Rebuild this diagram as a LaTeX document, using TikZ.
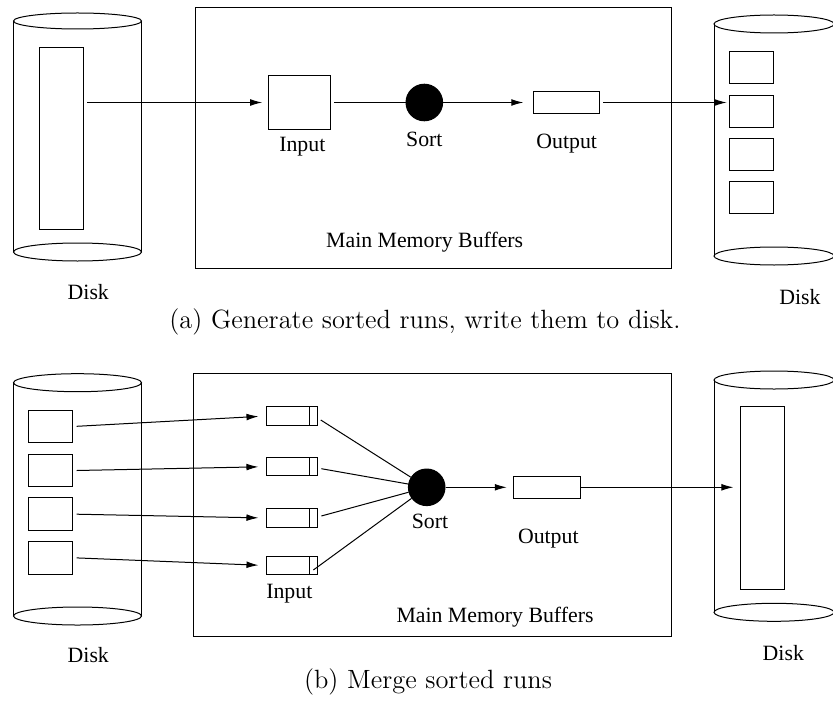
\documentclass[tikz,border=0pt]{standalone}
\usepackage{fontspec}
\newfontfamily\timesf{Liberation Serif}
\usetikzlibrary{arrows.meta,calc}
\begin{document}
\begin{tikzpicture}[x=0.5pt,y=-0.5pt,line width=0.5pt,
  box/.style={draw,inner sep=0pt,outer sep=0pt},
  lbl/.style={font=\timesf\fontsize{10.9}{13}\selectfont,inner sep=0pt},
  captext/.style={font=\fontsize{13.2}{16}\selectfont,inner sep=0pt},
  arr/.style={-{Latex[length=6pt,width=3.4pt]}},
  sortdot/.style={circle,fill=black,draw,minimum size=18.3pt,inner sep=0pt}]
\useasboundingbox (0,0) rectangle (833,700);
\clip (0,0) rectangle (833,700);
% ---------- (a) ----------
% left disk
\draw (77.5,21) ellipse [x radius=64,y radius=8];
\draw (77.5,252) ellipse [x radius=64,y radius=9];
\draw (13.5,21) -- (13.5,252);
\draw (141.5,21) -- (141.5,252);
\node[box,minimum width=22pt,minimum height=90.8pt] (l1run) at (61.3,138.5) {};
% right disk
\draw (774,24) ellipse [x radius=60,y radius=9];
\draw (774,256) ellipse [x radius=60,y radius=9];
\draw (714,24) -- (714,256);
\draw (834,24) -- (834,256);
\node[box,minimum width=22pt,minimum height=16pt] (r1b1) at (751.3,67.5) {};
\node[box,minimum width=22pt,minimum height=16pt] (r1b2) at (751.3,111.2) {};
\node[box,minimum width=22pt,minimum height=16pt] (r1b3) at (751.3,154.5) {};
\node[box,minimum width=22pt,minimum height=16pt] (r1b4) at (751.3,197.9) {};
% memory
\node[box,minimum width=238pt,minimum height=130pt] (mem1) at (433,138) {};
\node[box,minimum width=31pt,minimum height=27.15pt] (in1) at (299.2,102.5) {};
\node[sortdot] (sort1) at (424.3,102.5) {};
\node[box,minimum width=33pt,minimum height=11pt] (out1) at (566.3,102.5) {};
\coordinate (l1src) at ($(l1run.east)+(4,0)$);
\draw[arr,shorten >=3pt] (l1src |- in1.west) -- (in1.west);
\draw ([xshift=2pt]in1.east) -- (sort1);
\draw[arr,shorten >=5pt] (sort1) -- (out1.west);
\draw[arr,shorten >=1.3pt] ([xshift=2pt]out1.east) -- (out1.east -| r1b2.west);
\node[lbl] (tin1) at (302.3,146.7) {Input};
\node[lbl] (tsort1) at (424.3,139.3) {Sort};
\node[lbl] (tout1) at (566.7,143.3) {Output};
\node[lbl] (tmem1) at (424.7,242.3) {Main Memory Buffers};
\node[lbl] (tdl1) at (88.3,291.7) {Disk};
\node[lbl] (tdr1) at (800,296.7) {Disk};
\node[captext] (capa) at (425,321.7) {(a) Generate sorted runs, write them to disk.};
% ---------- (b) ----------
% left disk
\draw (77.5,382.7) ellipse [x radius=64,y radius=9];
\draw (77.5,616) ellipse [x radius=64,y radius=9];
\draw (13.5,382.7) -- (13.5,616);
\draw (141.5,382.7) -- (141.5,616);
\node[box,minimum width=22pt,minimum height=16.25pt] (l2b1) at (50.3,426.3) {};
\node[box,minimum width=22pt,minimum height=16.25pt] (l2b2) at (50.3,470.5) {};
\node[box,minimum width=22pt,minimum height=16.25pt] (l2b3) at (50.3,514.2) {};
\node[box,minimum width=22pt,minimum height=16.25pt] (l2b4) at (50.3,557.9) {};
% right disk
\draw (774,380) ellipse [x radius=60,y radius=9];
\draw (774,612.3) ellipse [x radius=60,y radius=9];
\draw (714,380) -- (714,612.3);
\draw (834,380) -- (834,612.3);
\node[box,minimum width=22pt,minimum height=91.3pt] (r2run) at (762,498) {};
% memory
\node[box,minimum width=239pt,minimum height=131.25pt] (mem2) at (432,504.8) {};
\foreach \i/\y in {1/416,2/466.7,3/518,4/565.5}{
  \node[box,minimum width=25.65pt,minimum height=9.25pt] (b\i) at (291.7,\y) {};
  \draw ($(b\i.north east)+(-8,0)$) -- ($(b\i.south east)+(-8,0)$);
}
\node[sortdot] (sort2) at (426.7,487.3) {};
\node[box,minimum width=33.35pt,minimum height=10.85pt] (out2) at (546.7,487.3) {};
\foreach \i in {1,2,3,4}{
  \draw[arr,shorten >=3.8pt] ([xshift=2.2pt]l2b\i.east) -- (b\i.west);
}
\draw ([xshift=1.7pt,yshift=-2pt]b1.east) -- (sort2);
\draw ([xshift=2pt,yshift=-1pt]b2.east) -- (sort2);
\draw ([xshift=2pt,yshift=1pt]b3.east) -- (sort2);
\draw ($(b4.east)+(-4,4.5)$) -- (sort2);
\draw[arr,shorten >=3.3pt] (sort2) -- (out2.west);
\draw[arr,shorten >=3.3pt] (out2.east) -- (out2.east -| r2run.west);
\node[lbl] (tin2) at (289.3,593.3) {Input};
\node[lbl] (tsort2) at (430,521) {Sort};
\node[lbl] (tout2) at (548.3,538.3) {Output};
\node[lbl] (tmem2) at (495,616.7) {Main Memory Buffers};
\node[lbl] (tdl2) at (88.3,655) {Disk};
\node[lbl] (tdr2) at (783.3,653.3) {Disk};
\node[captext] (capb) at (428,682) {(b) Merge sorted runs};
\end{tikzpicture}
\end{document}
